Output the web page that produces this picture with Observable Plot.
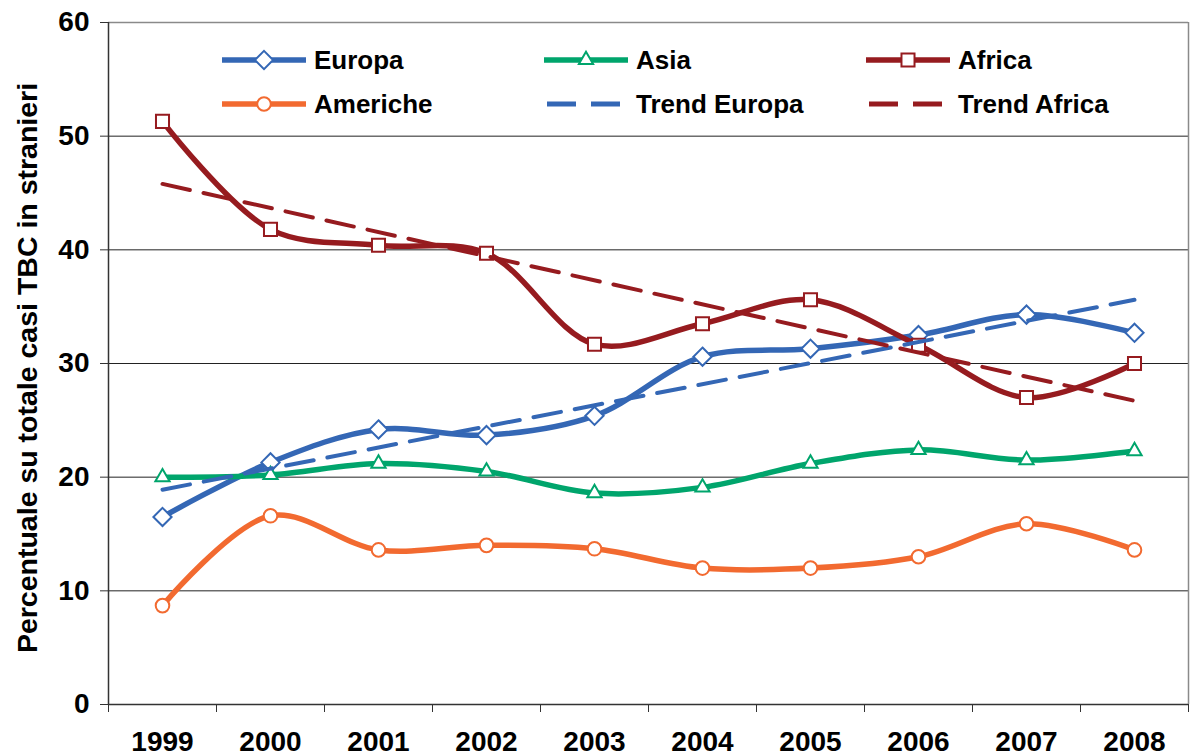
<!DOCTYPE html>
<html>
<head>
<meta charset="utf-8">
<script src="https://cdn.jsdelivr.net/npm/d3@7"></script>
<script src="https://cdn.jsdelivr.net/npm/@observablehq/plot@0.6"></script>
<style>
  html, body { margin: 0; padding: 0; background: #fff; }
  #wrap { position: relative; width: 1191px; height: 756px; font-family: "Liberation Sans", Arial, sans-serif; }
  #wrap svg text { font-weight: bold; }
  #overlay { position: absolute; left: 0; top: 0; pointer-events: none; }
</style>
</head>
<body>
<div id="wrap"></div>
<script>
// ---- data ----
const years = [1999, 2000, 2001, 2002, 2003, 2004, 2005, 2006, 2007, 2008];
const europa   = [16.5, 21.3, 24.2, 23.7, 25.4, 30.6, 31.3, 32.5, 34.3, 32.7];
const asia     = [20.0, 20.2, 21.2, 20.5, 18.6, 19.1, 21.2, 22.4, 21.5, 22.3];
const africa   = [51.3, 41.8, 40.4, 39.7, 31.7, 33.5, 35.6, 31.6, 27.0, 30.0];
const americhe = [8.7, 16.6, 13.6, 14.0, 13.7, 12.0, 12.0, 13.0, 15.9, 13.6];
const yTicks = [0, 10, 20, 30, 40, 50, 60];
const yLabel = "Percentuale su totale casi TBC in stranieri";

const seriesNames = ["Europa", "Asia", "Africa", "Americhe"];
const seriesValues = [europa, asia, africa, americhe];
const seriesColors = ["#3467B5", "#00A56C", "#961B1F", "#F26A30"];
const seriesSymbols = ["diamond2", "triangle2", "square2", "circle"];
const seriesR = [8.2, 6.8, 8.3, 6.8];
const trendNames = ["Trend Europa", "Trend Africa"];
const trendOf = [0, 2];

const rows = seriesNames.map((name, i) => years.map((year, j) => ({name, year, value: seriesValues[i][j]})));
const bounds = years.map(y => y - 0.5).concat([years[years.length - 1] + 0.5]);

const marks = [
  Plot.gridY(yTicks.filter(d => d > 0 && d < 60), {stroke: "#222", strokeOpacity: 1, strokeWidth: 1}),
  Plot.ruleY([60], {stroke: "#8a8a8a", strokeWidth: 1.5}),
  Plot.ruleX([bounds[bounds.length - 1]], {stroke: "#8a8a8a", strokeWidth: 1.5}),
  Plot.axisY({ticks: yTicks, tickSize: 8, tickPadding: 11, stroke: "#333", fontSize: 28, fontWeight: "bold", fill: "#000", label: null}),
  Plot.axisX({ticks: bounds, tickSize: 8, stroke: "#333", tickFormat: () => "", label: null}),
  Plot.axisX({ticks: years, tickSize: 0, tickPadding: 27, fontSize: 28, fontWeight: "bold", fill: "#000", tickFormat: d => String(d), label: null}),
];

rows.forEach((data, i) => {
  marks.push(Plot.line(data, {x: "year", y: "value", stroke: seriesColors[i], strokeWidth: 5.5, curve: "catmull-rom", strokeLinejoin: "round"}));
  marks.push(Plot.dot(data, {x: "year", y: "value", symbol: () => seriesSymbols[i], r: seriesR[i], fill: "#fff", stroke: seriesColors[i], strokeWidth: 2}));
});

trendOf.forEach((si, k) => {
  marks.push(Plot.linearRegressionY(rows[si], {x: "year", y: "value", stroke: seriesColors[si], strokeWidth: 4, strokeDasharray: "28,14", ci: 0}));
});

marks.push(Plot.ruleX([bounds[0]], {stroke: "#333", strokeWidth: 1.5}));
marks.push(Plot.ruleY([0], {stroke: "#333", strokeWidth: 1.5}));

const chart = Plot.plot({
  width: 1191,
  height: 756,
  marginLeft: 108,
  marginRight: 3,
  marginTop: 22,
  marginBottom: 52,
  style: {fontFamily: '"Liberation Sans", Arial, sans-serif', background: "#fff", color: "#000"},
  x: {type: "linear", domain: [bounds[0], bounds[bounds.length - 1]]},
  y: {domain: [0, 60]},
  symbol: {type: "identity"},
  marks
});
document.getElementById("wrap").appendChild(chart);

// ---- legend + y label overlay ----
const ov = d3.select("#wrap").append("svg").attr("id", "overlay").attr("width", 1191).attr("height", 756);
ov.append("text")
  .attr("transform", "translate(37,368) rotate(-90)")
  .attr("text-anchor", "middle")
  .attr("font-size", 28.5)
  .attr("font-family", '"Liberation Sans", Arial, sans-serif')
  .attr("font-weight", "bold")
  .text(yLabel);

const symMap = {diamond2: d3.symbolDiamond2, triangle2: d3.symbolTriangle2, square2: d3.symbolSquare2, circle: d3.symbolCircle};
const legendItems = [
  {name: seriesNames[0], color: seriesColors[0], sym: seriesSymbols[0], r: seriesR[0]},
  {name: seriesNames[1], color: seriesColors[1], sym: seriesSymbols[1], r: seriesR[1]},
  {name: seriesNames[2], color: seriesColors[2], sym: seriesSymbols[2], r: seriesR[2]},
  {name: seriesNames[3], color: seriesColors[3], sym: seriesSymbols[3], r: seriesR[3]},
  {name: trendNames[0], color: seriesColors[0], dash: true},
  {name: trendNames[1], color: seriesColors[2], dash: true},
];
legendItems.forEach((it, i) => {
  const col = i % 3, row = Math.floor(i / 3);
  const x0 = 222 + col * 322, y0 = 60 + row * 44;
  const g = ov.append("g").attr("transform", `translate(${x0},${y0})`);
  if (it.dash) {
    g.append("line").attr("x1", 3).attr("x2", 78).attr("y1", 0).attr("y2", 0)
      .attr("stroke", it.color).attr("stroke-width", 5).attr("stroke-dasharray", "29,15");
  } else {
    g.append("line").attr("x1", 0).attr("x2", 84).attr("y1", 0).attr("y2", 0)
      .attr("stroke", it.color).attr("stroke-width", 5.5);
    g.append("path").attr("transform", "translate(42,0)")
      .attr("d", d3.symbol(symMap[it.sym], it.r * it.r * Math.PI)())
      .attr("fill", "#fff").attr("stroke", it.color).attr("stroke-width", 2);
  }
  g.append("text").attr("x", 92).attr("y", 0).attr("dy", "0.36em")
    .attr("font-size", 26).attr("font-weight", "bold")
    .attr("font-family", '"Liberation Sans", Arial, sans-serif')
    .text(it.name);
});
</script>
</body>
</html>
